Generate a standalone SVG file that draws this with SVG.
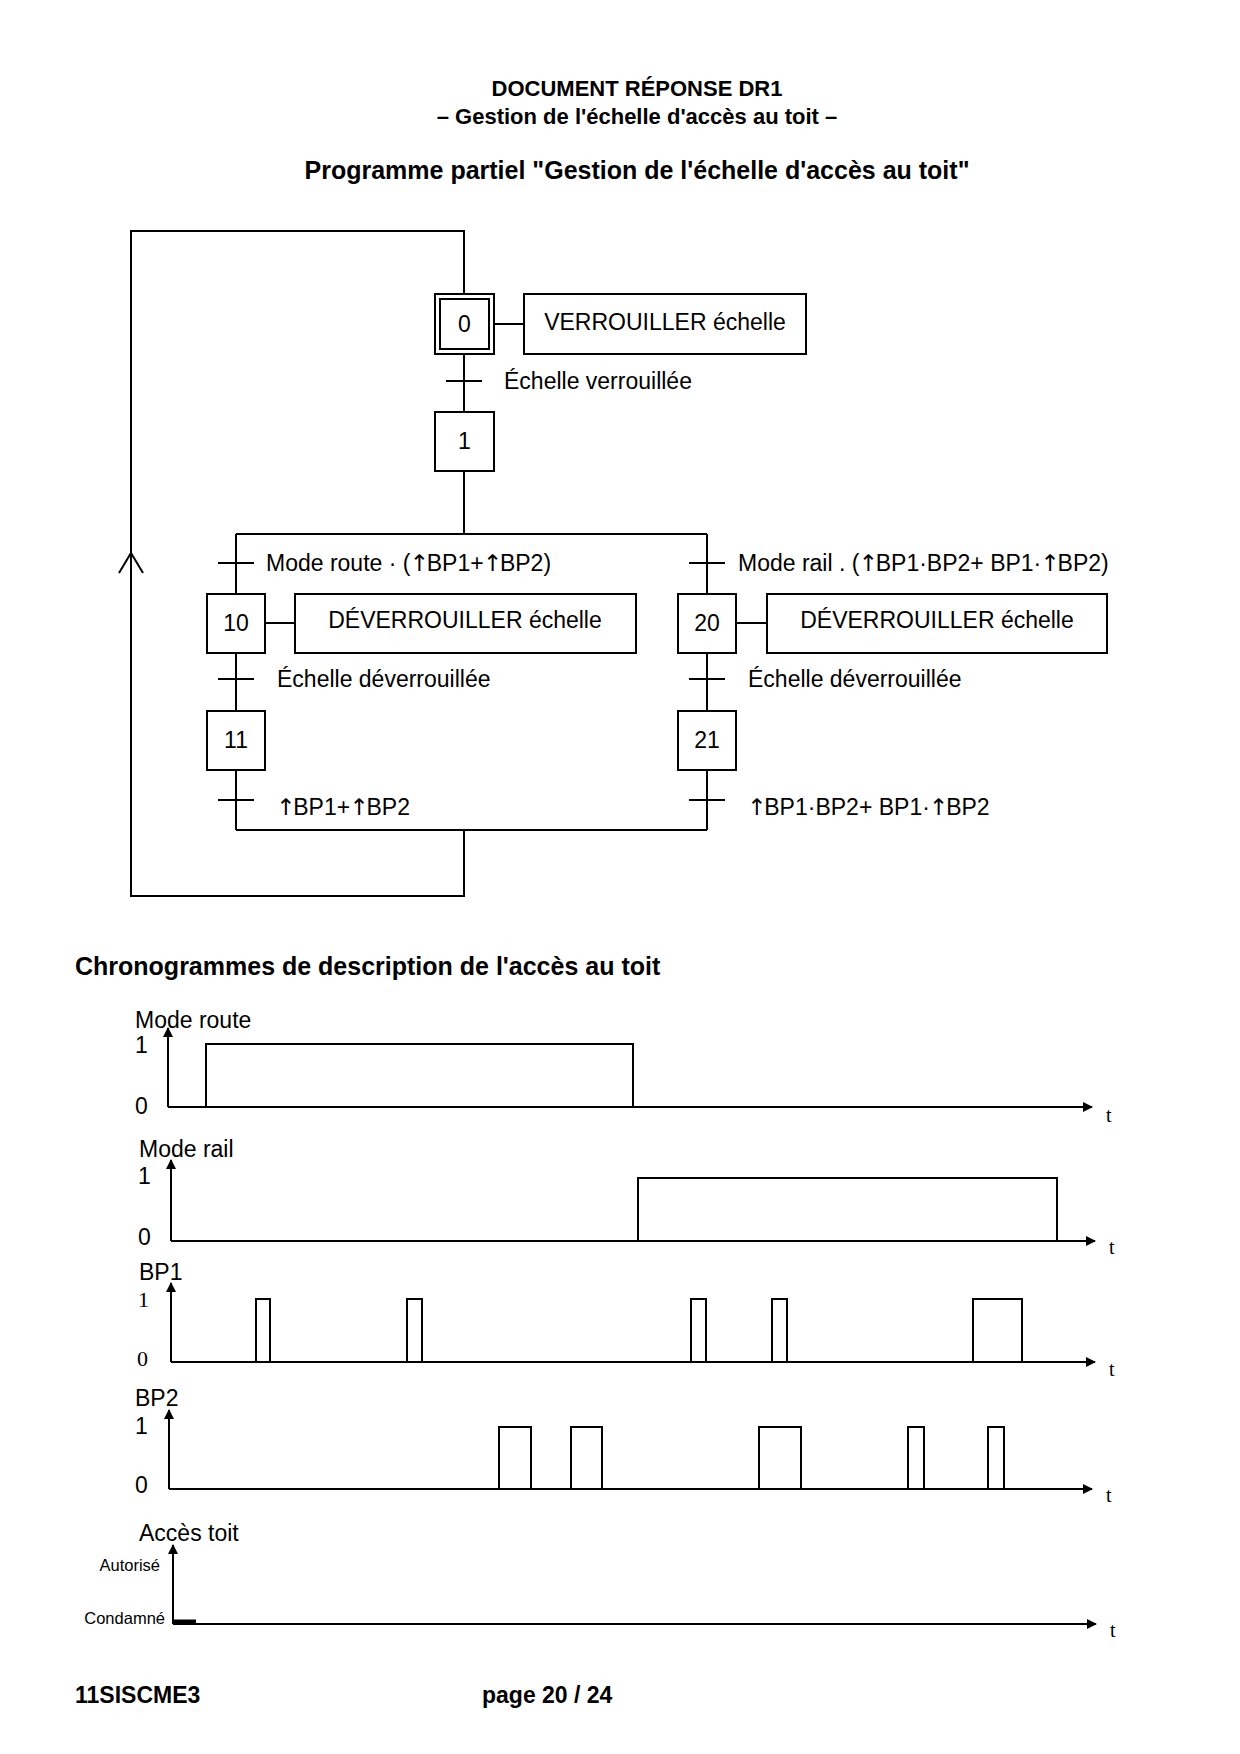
<svg xmlns="http://www.w3.org/2000/svg" width="1240" height="1754" viewBox="0 0 1240 1754">
<style>
.s{font-family:"Liberation Sans",Arial,sans-serif;fill:#000}
.b{font-weight:bold}
.t{font-family:"Liberation Serif","Times New Roman",serif;fill:#000}
.ar{font-family:"DejaVu Sans",sans-serif}
.ln{stroke:#000;stroke-width:2;fill:none}
.bx{stroke:#000;stroke-width:2;fill:#fff}
.sig{stroke:#000;stroke-width:2;fill:none;stroke-linejoin:miter}
</style>
<defs>
<marker id="ah" markerWidth="10" markerHeight="10" refX="9" refY="5" orient="auto" markerUnits="userSpaceOnUse">
<path d="M0,0 L10,5 L0,10 Z" fill="#000"/>
</marker>
</defs>
<rect width="1240" height="1754" fill="#fff"/>

<g id="titles">
<text class="s b" x="637" y="96" font-size="22" text-anchor="middle">DOCUMENT RÉPONSE DR1</text>
<text class="s b" x="637" y="124" font-size="22" text-anchor="middle">– Gestion de l'échelle d'accès au toit –</text>
<text class="s b" x="637" y="179" font-size="25" text-anchor="middle">Programme partiel "Gestion de l'échelle d'accès au toit"</text>
</g>

<g id="connectors">
<polyline class="ln" points="464,294 464,231 131,231 131,896 464,896 464,830"/>
<polyline class="ln" points="119,573 131,553 143,573"/>
<line class="ln" x1="464" y1="354" x2="464" y2="412"/>
<line class="ln" x1="446" y1="381" x2="482" y2="381"/>
<line class="ln" x1="464" y1="471" x2="464" y2="534"/>
<line class="ln" x1="236" y1="534" x2="707" y2="534"/>
<line class="ln" x1="236" y1="534" x2="236" y2="594"/>
<line class="ln" x1="218" y1="563" x2="254" y2="563"/>
<line class="ln" x1="707" y1="534" x2="707" y2="594"/>
<line class="ln" x1="689" y1="563" x2="725" y2="563"/>
<line class="ln" x1="236" y1="653" x2="236" y2="711"/>
<line class="ln" x1="218" y1="679" x2="254" y2="679"/>
<line class="ln" x1="707" y1="653" x2="707" y2="711"/>
<line class="ln" x1="689" y1="679" x2="725" y2="679"/>
<line class="ln" x1="236" y1="770" x2="236" y2="830"/>
<line class="ln" x1="218" y1="800" x2="254" y2="800"/>
<line class="ln" x1="707" y1="770" x2="707" y2="830"/>
<line class="ln" x1="689" y1="800" x2="725" y2="800"/>
<line class="ln" x1="236" y1="830" x2="707" y2="830"/>
<line class="ln" x1="494" y1="324" x2="524" y2="324"/>
<line class="ln" x1="265" y1="623" x2="295" y2="623"/>
<line class="ln" x1="736" y1="623" x2="767" y2="623"/>
</g>

<g id="step0">
<rect class="bx" x="435" y="294" width="59" height="60"/>
<rect class="bx" x="440" y="299" width="49" height="50"/>
<text class="s" x="464.5" y="332" font-size="23" text-anchor="middle">0</text>
</g>
<g id="action0">
<rect class="bx" x="524" y="294" width="282" height="60"/>
<text class="s" x="665" y="330" font-size="23" text-anchor="middle">VERROUILLER échelle</text>
</g>
<g id="t0"><text class="s" x="504" y="389" font-size="23">Échelle verrouillée</text></g>
<g id="step1">
<rect class="bx" x="435" y="412" width="59" height="59"/>
<text class="s" x="464.5" y="449" font-size="23" text-anchor="middle">1</text>
</g>
<g id="t1"><text class="s" x="266" y="571" font-size="23">Mode route · (<tspan class="ar" dx="-1">↑</tspan><tspan dx="-2">BP1+</tspan><tspan class="ar" dx="-1">↑</tspan><tspan dx="-2">BP2)</tspan></text></g>
<g id="t2"><text class="s" x="738" y="571" font-size="23">Mode rail . (<tspan class="ar" dx="-1">↑</tspan><tspan dx="-2">BP1·BP2+ BP1·</tspan><tspan class="ar" dx="-1">↑</tspan><tspan dx="-2">BP2)</tspan></text></g>
<g id="step10">
<rect class="bx" x="207" y="594" width="58" height="59"/>
<text class="s" x="236" y="631" font-size="23" text-anchor="middle">10</text>
</g>
<g id="action10">
<rect class="bx" x="295" y="594" width="341" height="59"/>
<text class="s" x="465" y="628" font-size="23" text-anchor="middle">DÉVERROUILLER échelle</text>
</g>
<g id="step20">
<rect class="bx" x="678" y="594" width="58" height="59"/>
<text class="s" x="707" y="631" font-size="23" text-anchor="middle">20</text>
</g>
<g id="action20">
<rect class="bx" x="767" y="594" width="340" height="59"/>
<text class="s" x="937" y="628" font-size="23" text-anchor="middle">DÉVERROUILLER échelle</text>
</g>
<g id="t10"><text class="s" x="277" y="687" font-size="23">Échelle déverrouillée</text></g>
<g id="t20"><text class="s" x="748" y="687" font-size="23">Échelle déverrouillée</text></g>
<g id="step11">
<rect class="bx" x="207" y="711" width="58" height="59"/>
<text class="s" x="236" y="748" font-size="23" text-anchor="middle">11</text>
</g>
<g id="step21">
<rect class="bx" x="678" y="711" width="58" height="59"/>
<text class="s" x="707" y="748" font-size="23" text-anchor="middle">21</text>
</g>
<g id="t11"><text class="s" x="276" y="815" font-size="23"><tspan class="ar">↑</tspan><tspan dx="-2">BP1+</tspan><tspan class="ar" dx="-1">↑</tspan><tspan dx="-2">BP2</tspan></text></g>
<g id="t21"><text class="s" x="747" y="815" font-size="23"><tspan class="ar">↑</tspan><tspan dx="-2">BP1·BP2+ BP1·</tspan><tspan class="ar" dx="-1">↑</tspan><tspan dx="-2">BP2</tspan></text></g>

<g id="chrono">
<text class="s b" x="75" y="975" font-size="25">Chronogrammes de description de l'accès au toit</text>

<text class="s" x="135" y="1028" font-size="23">Mode route</text>
<text class="s" x="135" y="1053" font-size="23">1</text>
<text class="s" x="135" y="1114" font-size="23">0</text>
<line class="ln" x1="168" y1="1107" x2="168" y2="1028" marker-end="url(#ah)"/>
<line class="ln" x1="168" y1="1107" x2="1092" y2="1107" marker-end="url(#ah)"/>
<text class="t" x="1106" y="1122" font-size="20">t</text>
<polyline class="sig" points="168,1107 206,1107 206,1044 633,1044 633,1107"/>

<text class="s" x="139" y="1157" font-size="23">Mode rail</text>
<text class="s" x="138" y="1184" font-size="23">1</text>
<text class="s" x="138" y="1245" font-size="23">0</text>
<line class="ln" x1="171" y1="1241" x2="171" y2="1160" marker-end="url(#ah)"/>
<line class="ln" x1="171" y1="1241" x2="1095" y2="1241" marker-end="url(#ah)"/>
<text class="t" x="1109" y="1254" font-size="20">t</text>
<polyline class="sig" points="638,1241 638,1178 1057,1178 1057,1241"/>

<text class="s" x="139" y="1280" font-size="23">BP1</text>
<text class="t" x="138" y="1307" font-size="22">1</text>
<text class="t" x="137" y="1366" font-size="22">0</text>
<line class="ln" x1="171" y1="1362" x2="171" y2="1283" marker-end="url(#ah)"/>
<line class="ln" x1="171" y1="1362" x2="1095" y2="1362" marker-end="url(#ah)"/>
<text class="t" x="1109" y="1376" font-size="20">t</text>
<polyline class="sig" points="256,1362 256,1299 270,1299 270,1362"/>
<polyline class="sig" points="407,1362 407,1299 422,1299 422,1362"/>
<polyline class="sig" points="691,1362 691,1299 706,1299 706,1362"/>
<polyline class="sig" points="772,1362 772,1299 787,1299 787,1362"/>
<polyline class="sig" points="973,1362 973,1299 1022,1299 1022,1362"/>

<text class="s" x="135" y="1406" font-size="23">BP2</text>
<text class="s" x="135" y="1434" font-size="23">1</text>
<text class="s" x="135" y="1493" font-size="23">0</text>
<line class="ln" x1="169" y1="1489" x2="169" y2="1410" marker-end="url(#ah)"/>
<line class="ln" x1="169" y1="1489" x2="1092" y2="1489" marker-end="url(#ah)"/>
<text class="t" x="1106" y="1502" font-size="20">t</text>
<polyline class="sig" points="499,1489 499,1427 531,1427 531,1489"/>
<polyline class="sig" points="571,1489 571,1427 602,1427 602,1489"/>
<polyline class="sig" points="759,1489 759,1427 801,1427 801,1489"/>
<polyline class="sig" points="908,1489 908,1427 924,1427 924,1489"/>
<polyline class="sig" points="988,1489 988,1427 1004,1427 1004,1489"/>

<text class="s" x="139" y="1541" font-size="23">Accès toit</text>
<text class="s" x="160" y="1571" font-size="16.5" text-anchor="end">Autorisé</text>
<text class="s" x="165" y="1624" font-size="16.5" text-anchor="end">Condamné</text>
<line class="ln" x1="173" y1="1624" x2="173" y2="1545" marker-end="url(#ah)"/>
<line class="ln" x1="173" y1="1624" x2="1096" y2="1624" marker-end="url(#ah)"/>
<line x1="173" y1="1622" x2="196" y2="1622" stroke="#000" stroke-width="5"/>
<text class="t" x="1110" y="1637" font-size="20">t</text>
</g>

<g id="footer">
<text class="s b" x="75" y="1703" font-size="23">11SISCME3</text>
<text class="s b" x="482" y="1703" font-size="23">page 20 / 24</text>
</g>
</svg>
